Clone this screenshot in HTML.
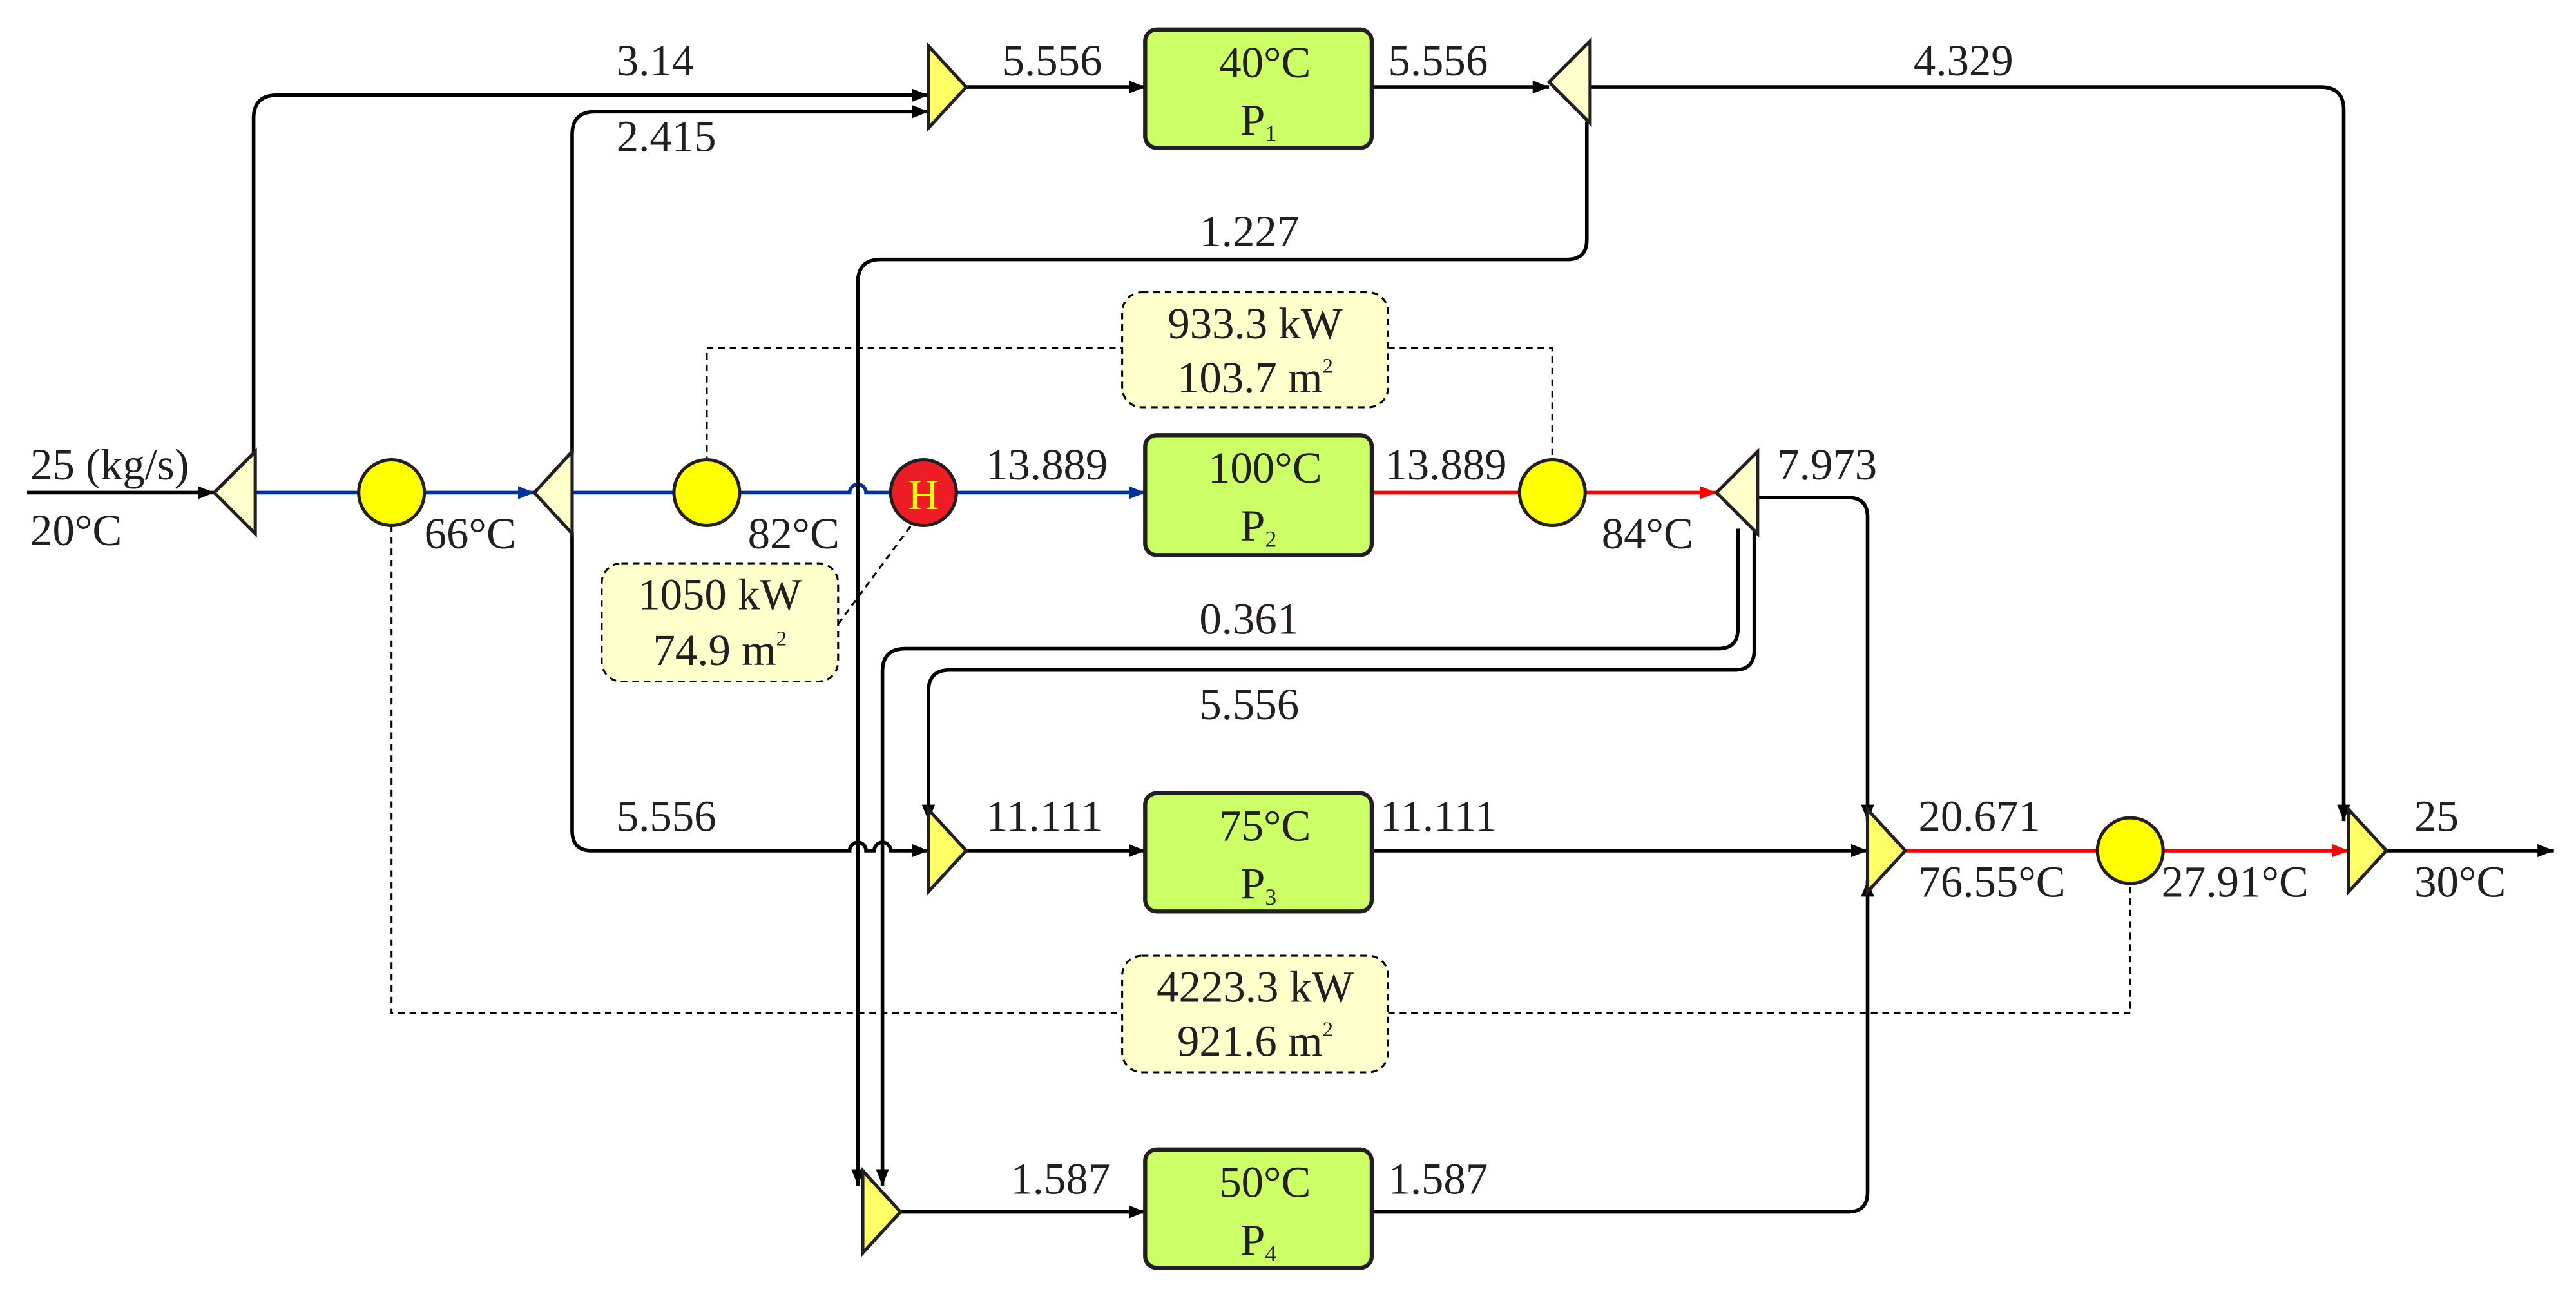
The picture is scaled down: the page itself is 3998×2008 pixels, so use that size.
<!DOCTYPE html>
<html><head><meta charset="utf-8"><style>html,body{margin:0;padding:0;background:#fff}svg{display:block}svg text{font-family:"Liberation Serif","Times New Roman",serif}</style></head>
<body>
<svg width="3998" height="2008" viewBox="0 0 1568 788" xmlns="http://www.w3.org/2000/svg" style="font-family:'Liberation Serif',serif" font-size="27" fill="#231f20">
<defs>
<marker id="ak" markerWidth="10" markerHeight="8" refX="10" refY="4" orient="auto" markerUnits="userSpaceOnUse"><path d="M0,0 L10,4 L0,8z" fill="#000"/></marker>
<marker id="ab" markerWidth="10" markerHeight="8" refX="10" refY="4" orient="auto" markerUnits="userSpaceOnUse"><path d="M0,0 L10,4 L0,8z" fill="#003399"/></marker>
<marker id="ar" markerWidth="10" markerHeight="8" refX="10" refY="4" orient="auto" markerUnits="userSpaceOnUse"><path d="M0,0 L10,4 L0,8z" fill="#ff0000"/></marker>
</defs>
<g fill="none" stroke="#000" stroke-width="2.2">
<path d="M16,300 H130" marker-end="url(#ak)"/>
<path d="M155,300 H325" stroke="#003399" marker-end="url(#ab)"/>
<path d="M348,300 H517 a5,5 0 0 1 10,0 H697" stroke="#003399" marker-end="url(#ab)"/>
<path d="M835,300 H1045" stroke="#ff0000" marker-end="url(#ar)"/>
<path d="M154,276 V72 q0,-14 14,-14 H565" marker-end="url(#ak)"/>
<path d="M348,276 V82 q0,-14 14,-14 H565" marker-end="url(#ak)"/>
<path d="M348,324 V506 q0,12 12,12 H517 a5,5 0 0 1 10,0 H532 a5,5 0 0 1 10,0 H565" marker-end="url(#ak)"/>
<path d="M588,53 H697" marker-end="url(#ak)"/>
<path d="M835,53 H943" marker-end="url(#ak)"/>
<path d="M968,53 H1413 q14,0 14,14 V500" marker-end="url(#ak)"/>
<path d="M966,74 V146 q0,12 -12,12 H536 q-14,0 -14,14 V722" marker-end="url(#ak)"/>
<path d="M1070,303 H1125 q12,0 12,12 V500" marker-end="url(#ak)"/>
<path d="M1058,322 V383 q0,12 -12,12 H551 q-14,0 -14,14 V722" marker-end="url(#ak)"/>
<path d="M1068,322 V396 q0,12 -12,12 H578 q-13,0 -13,13 V500" marker-end="url(#ak)"/>
<path d="M588,518 H697" marker-end="url(#ak)"/>
<path d="M835,518 H1137" marker-end="url(#ak)"/>
<path d="M1160,518 H1430" stroke="#ff0000" marker-end="url(#ar)"/>
<path d="M1453,518 H1555" marker-end="url(#ak)"/>
<path d="M548,738 H697" marker-end="url(#ak)"/>
<path d="M835,738 H1125 q12,0 12,-12 V536" marker-end="url(#ak)"/>
</g>
<g fill="none" stroke="#000" stroke-width="1.2" stroke-dasharray="4,3">
<path d="M430,282 V212 H683"/><path d="M845,212 H945 V282"/>
<path d="M510,380 L556,318"/>
<path d="M238,320 V617 H683"/><path d="M845,617 H1297 V538"/>
<rect x="683" y="178" width="162" height="70" rx="12" fill="#ffffcc"/>
<rect x="366" y="343" width="144" height="72" rx="12" fill="#ffffcc"/>
<rect x="683" y="582" width="162" height="71" rx="12" fill="#ffffcc"/>
</g>
<g fill="#ffffcc" stroke="#231f20" stroke-width="2">
<path d="M130,300 L155,275 V325z"/><path d="M325,300 L348,275 V325z"/>
<path d="M1045,300 L1070,275 V325z"/><path d="M943,50 L968,25 V75z"/>
</g>
<g fill="#ffff66" stroke="#231f20" stroke-width="2">
<path d="M565,28 L588,53 L565,78z"/><path d="M565,493 L588,518 L565,543z"/>
<path d="M1137,493 L1160,518 L1137,543z"/><path d="M1430,493 L1453,518 L1430,543z"/>
<path d="M525,713 L548,738 L525,763z"/>
</g>
<g stroke="#231f20" stroke-width="2">
<ellipse cx="238" cy="300" rx="20" ry="20" fill="#ffff00"/>
<ellipse cx="430" cy="300" rx="20" ry="20" fill="#ffff00"/>
<ellipse cx="945" cy="300" rx="20" ry="20" fill="#ffff00"/>
<ellipse cx="1297" cy="518" rx="20" ry="20" fill="#ffff00"/>
<ellipse cx="562" cy="300" rx="20" ry="20" fill="#ee1c24"/>
</g>
<text x="562" y="310" text-anchor="middle" fill="#ffff00" font-size="26">H</text>
<g fill="#ccff66" stroke="#231f20" stroke-width="2.5">
<rect x="697" y="18" width="138" height="72" rx="7"/>
<rect x="697" y="265" width="138" height="73" rx="7"/>
<rect x="697" y="483" width="138" height="72" rx="7"/>
<rect x="697" y="700" width="138" height="72" rx="7"/>
</g>
<g text-anchor="middle">
<text x="770" y="47">40°C</text><text x="766" y="82">P<tspan font-size="14" dy="4">1</tspan></text>
<text x="770" y="294">100°C</text><text x="766" y="329">P<tspan font-size="14" dy="4">2</tspan></text>
<text x="770" y="512">75°C</text><text x="766" y="547">P<tspan font-size="14" dy="4">3</tspan></text>
<text x="770" y="729">50°C</text><text x="766" y="764">P<tspan font-size="14" dy="4">4</tspan></text>
<text x="764" y="206">933.3 kW</text><text x="764" y="239">103.7 m<tspan font-size="13" dy="-12">2</tspan></text>
<text x="438" y="371">1050 kW</text><text x="438" y="405">74.9 m<tspan font-size="13" dy="-12">2</tspan></text>
<text x="764" y="610">4223.3 kW</text><text x="764" y="643">921.6 m<tspan font-size="13" dy="-12">2</tspan></text>
</g>
<g>
<text x="18" y="292">25 (kg/s)</text><text x="18" y="332">20°C</text>
<text x="258" y="334">66°C</text><text x="455" y="334">82°C</text>
<text x="600" y="292">13.889</text><text x="843" y="292">13.889</text>
<text x="975" y="334">84°C</text><text x="1082" y="292">7.973</text>
<text x="375" y="46">3.14</text><text x="375" y="92">2.415</text>
<text x="610" y="46">5.556</text><text x="845" y="46">5.556</text>
<text x="1165" y="46">4.329</text><text x="730" y="150">1.227</text>
<text x="730" y="386">0.361</text><text x="730" y="438">5.556</text>
<text x="375" y="506">5.556</text><text x="600" y="506">11.111</text><text x="840" y="506">11.111</text>
<text x="1168" y="506">20.671</text><text x="1168" y="546">76.55°C</text>
<text x="1316" y="546">27.91°C</text><text x="1470" y="506">25</text><text x="1470" y="546">30°C</text>
<text x="615" y="727">1.587</text><text x="845" y="727">1.587</text>
</g>
</svg>
</body></html>
